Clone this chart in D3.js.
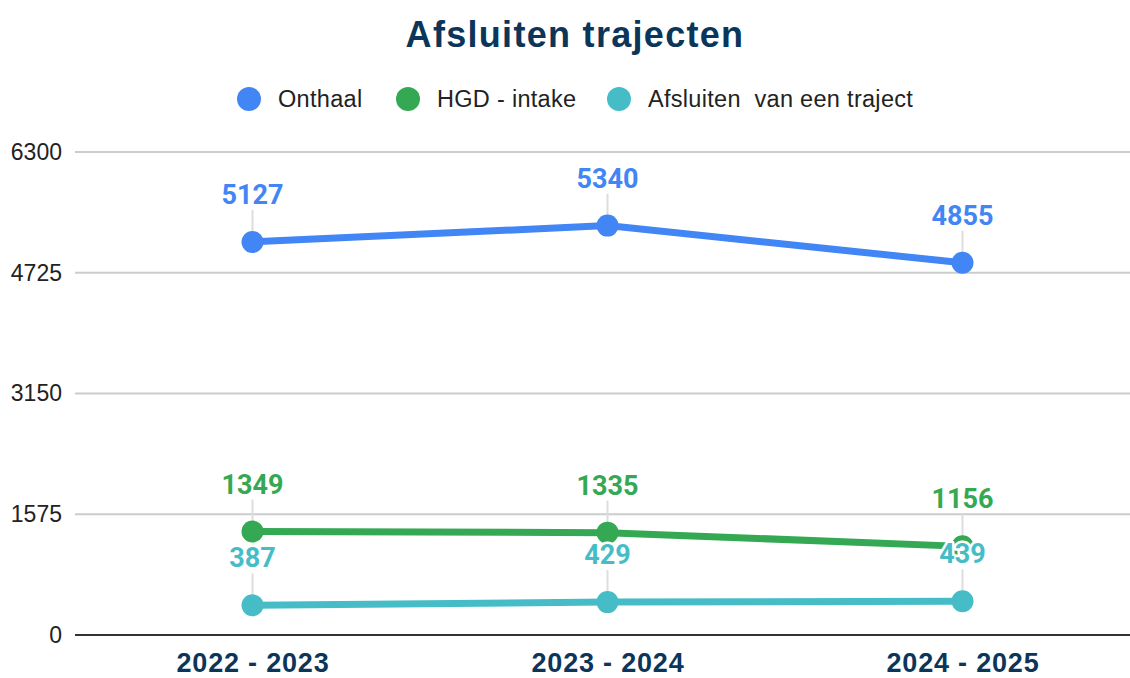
<!DOCTYPE html>
<html><head><meta charset="utf-8">
<script src="https://cdn.jsdelivr.net/npm/d3@7"></script>
<style>body{margin:0;background:#fff}svg{display:block}</style>
</head><body>
<svg id="c" width="1130" height="678"></svg>
<script>
const categories = ["2022 - 2023", "2023 - 2024", "2024 - 2025"];
const seriesNames = ["Onthaal", "HGD - intake", "Afsluiten  van een traject"];
const onthaal = [5127, 5340, 4855];
const hgdIntake = [1349, 1335, 1156];
const afsluiten = [387, 429, 439];
const yTicks = [0, 1575, 3150, 4725, 6300];
const colors = ["#4285f4", "#34a853", "#46bdc6"];
const title = "Afsluiten trajecten";

(function () {
const series = [onthaal, hgdIntake, afsluiten].map((v, i) => ({name: seriesNames[i], values: v, color: colors[i]}));

const svg = d3.select("#c");
const mLeft = 75, mRight = 1140, mTop = 152, mBottom = 635;
const x = d3.scalePoint().domain(categories).range([mLeft, mRight]).padding(0.5);
const y = d3.scaleLinear().domain([0, 6300]).range([mBottom, mTop]);

// title
svg.append("text").attr("x", 575).attr("y", 47).attr("text-anchor", "middle")
  .attr("font-family", "Liberation Sans, Arial, sans-serif").attr("font-weight", "bold")
  .attr("font-size", 36).attr("letter-spacing", 1.3).attr("fill", "#0c355a").text(title);

// legend
const legendX = [249, 408, 619];
series.forEach((s, i) => {
  svg.append("circle").attr("cx", legendX[i]).attr("cy", 99).attr("r", 12).attr("fill", s.color);
  svg.append("text").attr("x", legendX[i] + 29).attr("y", 107)
    .attr("font-family", "Liberation Sans, Arial, sans-serif").attr("font-size", 23.5)
    .attr("letter-spacing", 0.3)
    .attr("fill", "#222").style("white-space", "pre").text(s.name);
});

// y grid + ticks
const yAxis = d3.axisLeft(y).tickValues(yTicks).tickSize(0).tickPadding(13).tickFormat(d3.format("d"));
const gy = svg.append("g").attr("transform", `translate(${mLeft},0)`).call(yAxis);
gy.select(".domain").remove();
gy.selectAll("text").attr("font-family", "Liberation Sans, Arial, sans-serif").attr("font-size", 23).attr("fill", "#222");
svg.append("g").selectAll("line").data(yTicks.filter(d => d > 0)).join("line")
  .attr("x1", mLeft).attr("x2", 1130).attr("y1", d => y(d)).attr("y2", d => y(d))
  .attr("stroke", "#cccccc").attr("stroke-width", 2);

// x axis
const xAxis = d3.axisBottom(x).tickSize(0).tickPadding(18);
const gx = svg.append("g").attr("transform", `translate(0,${mBottom})`).call(xAxis);
gx.select(".domain").remove();
gx.selectAll("text").attr("font-family", "Liberation Sans, Arial, sans-serif").attr("font-weight", "bold")
  .attr("font-size", 27).attr("letter-spacing", 0.8).attr("fill", "#0c355a");
svg.append("line").attr("x1", mLeft).attr("x2", 1130).attr("y1", mBottom).attr("y2", mBottom)
  .attr("stroke", "#333").attr("stroke-width", 2);

// leader lines
series.forEach(s => {
  svg.append("g").selectAll("line").data(s.values).join("line")
    .attr("x1", (d, i) => x(categories[i])).attr("x2", (d, i) => x(categories[i]))
    .attr("y1", d => y(d) - 32).attr("y2", d => y(d))
    .attr("stroke", "#dddddd").attr("stroke-width", 2);
});

// lines + points
const line = d3.line().x((d, i) => x(categories[i])).y(d => y(d));
series.forEach(s => {
  svg.append("path").datum(s.values).attr("d", line).attr("fill", "none")
    .attr("stroke", s.color).attr("stroke-width", 7).attr("stroke-linecap", "round");
  svg.append("g").selectAll("circle").data(s.values).join("circle")
    .attr("cx", (d, i) => x(categories[i])).attr("cy", d => y(d)).attr("r", 11).attr("fill", s.color);
});
// labels
series.forEach(s => {
  svg.append("g").selectAll("text").data(s.values).join("text")
    .attr("x", (d, i) => x(categories[i])).attr("y", d => y(d) - 38)
    .attr("text-anchor", "middle").attr("font-family", "Roboto, sans-serif").attr("font-weight", "bold")
    .attr("font-size", 27).attr("fill", s.color)
    .attr("stroke", "#fff").attr("stroke-width", 5).attr("stroke-linejoin", "round")
    .attr("paint-order", "stroke").text(d => d);
});
})();
</script>
</body></html>
